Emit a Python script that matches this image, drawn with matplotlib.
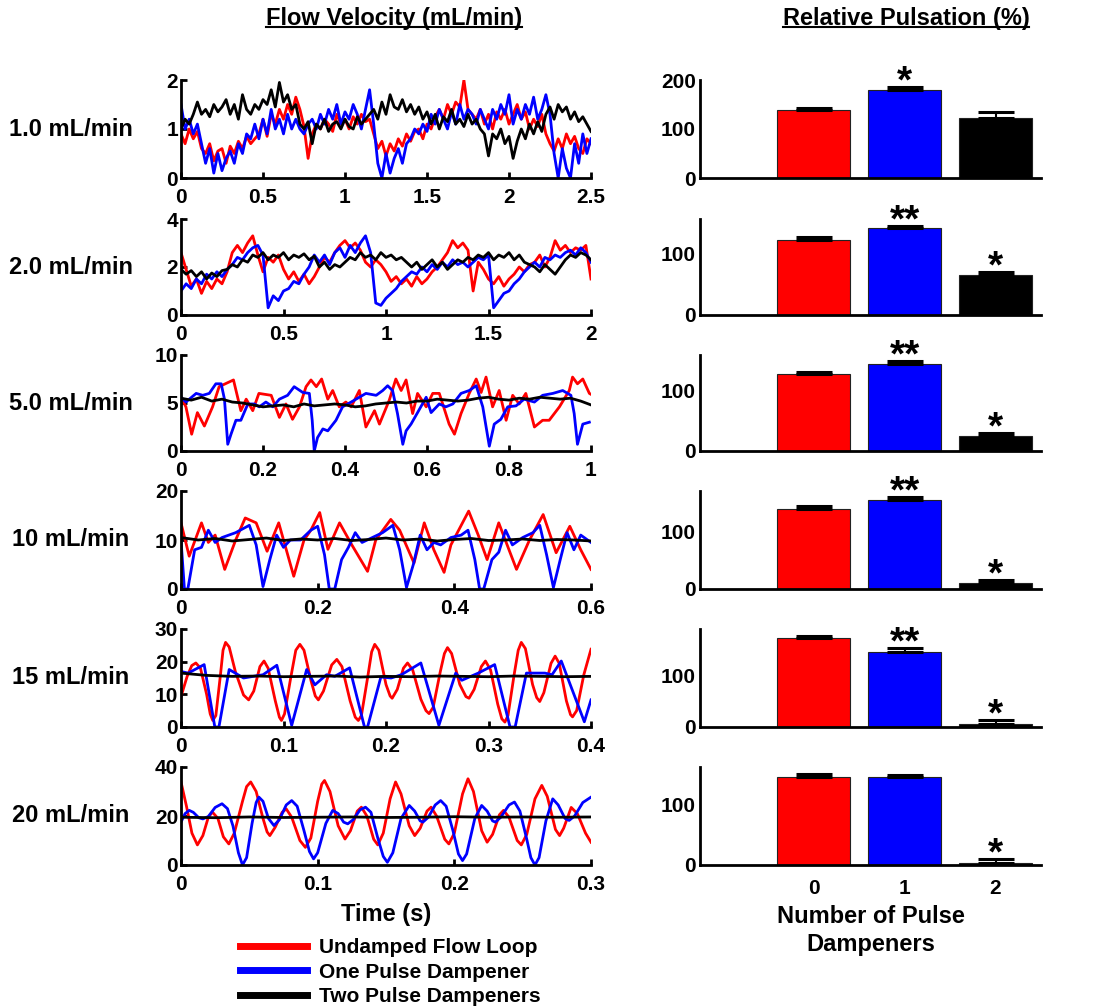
import numpy as np
import matplotlib
matplotlib.use('Agg')
import matplotlib.pyplot as plt
from matplotlib.lines import Line2D
from matplotlib.ticker import FormatStrFormatter

plt.rcParams['font.family'] = ['Liberation Sans', 'DejaVu Sans']
plt.rcParams['font.weight'] = 'bold'

# ---------------- data ----------------
row_labels = ['1.0 mL/min', '2.0 mL/min', '5.0 mL/min', '10 mL/min', '15 mL/min', '20 mL/min']
legend_labels = ['Undamped Flow Loop', 'One Pulse Dampener', 'Two Pulse Dampeners']

# 1.0 mL/min, sampled every 0.025 s
t1 = np.arange(101) * 0.025
red1 = [0.9, 0.7, 1.0, 0.8, 0.95,
        0.6, 0.5, 0.7, 0.35, 0.55, 0.6, 0.3, 0.65, 0.5, 0.75, 0.6, 0.85, 0.7, 0.8,
        0.9, 1.2, 0.85, 1.3, 1.1, 1.4, 1.2, 1.5, 1.3, 1.65,
        1.4, 1.05, 0.4, 0.9,
        1.1, 1.0, 1.2, 1.1, 0.95, 1.3, 1.1, 1.2, 1.0, 1.25, 1.1, 1.3, 1.15, 1.2,
        0.9, 0.6, 0.75, 0.45, 0.7, 0.55, 0.8, 0.65, 0.9, 0.75, 0.95, 1.0,
        0.8, 1.1, 1.0, 1.25, 1.4, 1.2, 1.5, 1.3, 1.55, 1.45, 2.0, 1.4, 1.3, 1.2, 1.4, 1.1,
        1.3, 1.0, 1.35, 1.2, 1.4, 1.1, 1.3, 1.5, 1.2, 1.35, 1.0, 1.2, 1.05, 1.3,
        0.9, 0.7, 0.55, 0.8, 0.6, 0.9, 0.7, 0.85, 0.6, 0.5, 0.8, 0.7]
blue1 = [1.5, 1.0, 1.2, 0.9, 1.1,
         0.7, 0.3, 0.6, 0.1, 0.5, 0.15, 0.4, 0.55, 0.3, 0.7, 0.5, 0.9, 0.8, 1.1,
         0.8, 1.2, 0.9, 1.4, 1.0, 1.2, 0.9, 1.3, 1.0, 1.2,
         1.0, 0.9, 1.1, 1.2,
         1.0, 1.3, 1.1, 1.4, 1.2, 1.5, 1.1, 1.35, 1.2, 1.5, 1.3, 1.0, 1.4, 1.8,
         1.1, 0.3, 0.0, 0.5, 0.1, 0.4, 0.6, 0.3, 0.7, 0.8, 1.0, 0.9,
         1.1, 0.95, 1.3, 1.1, 1.4, 1.2, 1.0, 1.35, 1.1, 1.5, 1.2, 1.4, 1.3, 1.1, 1.4, 1.2,
         1.0, 1.4, 1.2, 1.5, 1.3, 1.7, 1.1, 1.4, 1.2, 1.5, 1.3, 1.65, 1.2, 1.4,
         1.7, 1.3, 0.5, 0.0, 0.6, 0.2, 0.0, 0.7, 0.3, 0.9, 0.5, 0.8]
black1 = [1.0, 1.2, 1.1, 1.3, 1.55,
          1.3, 1.4, 1.25, 1.5, 1.35, 1.45, 1.6, 1.3, 1.5, 1.2, 1.7, 1.4, 1.3, 1.5,
          1.4, 1.6, 1.5, 1.8, 1.45, 1.95, 1.55, 1.7, 1.4, 1.5,
          1.1, 1.0, 1.15, 0.7,
          1.1, 1.0, 1.2, 0.95, 1.1, 1.15, 1.0, 1.2, 1.05, 1.0, 1.25, 1.1, 1.2, 1.3,
          1.4, 1.2, 1.55, 1.3, 1.7, 1.45, 1.4, 1.6, 1.35, 1.5, 1.3, 1.45,
          1.2, 1.35, 1.1, 1.3, 1.0, 1.25, 1.15, 1.4, 1.1, 1.2, 1.05, 1.3, 1.1, 1.2, 1.0, 0.9,
          0.45, 0.9, 0.8, 1.0, 0.7, 0.85, 0.4, 0.75, 1.0, 0.8, 1.1, 0.9, 1.15, 0.95,
          1.3, 1.45, 1.2, 1.5, 1.35, 1.45, 1.2, 1.35, 1.15, 1.25, 1.1, 0.95]

# 2.0 mL/min, sampled every 0.025 s
t2 = np.arange(81) * 0.025
red2 = [2.6, 1.9, 1.2, 1.5, 0.9, 1.4, 1.1, 1.5, 1.3,
        1.8, 2.6, 2.9, 2.6, 3.0, 3.3,
        2.5, 1.8, 2.4, 2.2, 2.5, 1.9, 1.5, 1.8, 1.4, 1.7, 1.3, 1.6,
        2.0, 2.4, 2.2, 2.6, 2.9, 3.1,
        2.8, 3.0, 2.7, 2.2, 2.0, 2.3, 2.1, 1.8, 1.4, 1.6, 1.3, 1.5,
        1.2, 1.6, 1.3, 1.5, 1.8, 2.0, 2.3, 2.6, 3.1, 2.8, 3.0, 2.7,
        1.0, 2.2, 1.9, 1.5, 1.3, 1.6, 1.2, 1.5, 1.7, 2.0, 1.8, 2.1,
        2.2, 2.5, 2.0, 2.4, 3.1, 2.7,
        2.9, 2.6, 2.8, 2.7, 2.9, 1.5]
blue2 = [1.0, 1.3, 1.1, 1.5, 1.3, 1.7, 1.5, 1.8, 1.6,
         1.9, 2.1, 2.4, 2.3, 2.6, 2.8,
         2.9, 2.5, 0.3, 0.8, 0.6, 1.0, 1.1, 1.4, 1.3, 1.7, 2.0, 2.5,
         2.2, 2.5, 2.1, 2.6, 2.8, 2.4,
         2.9, 2.6, 3.0, 3.3, 2.6, 0.5, 0.4, 0.7, 0.9, 1.1, 1.4, 1.6,
         1.8, 1.7, 2.0, 1.8, 2.1, 1.9, 2.2, 2.0, 2.3, 2.1, 2.2, 2.0,
         2.2, 2.4, 2.3, 2.5, 0.3, 0.6, 0.9, 1.0, 1.3, 1.5, 1.8, 2.0,
         2.2, 2.0, 2.4, 2.3, 2.5, 2.4,
         2.6, 2.7, 2.5, 2.8, 2.6, 2.2]
black2 = [1.9, 1.7, 1.85, 1.6, 1.8, 1.5, 1.75, 1.6, 1.85,
          1.9, 2.1, 2.0, 2.3, 2.2, 2.5,
          2.4, 2.6, 2.3, 2.5, 2.4, 2.6, 2.3, 2.5, 2.4, 2.55, 2.3, 2.45,
          2.0, 2.2, 1.9, 2.1, 2.0, 2.2,
          2.4, 2.3, 2.6, 2.4, 2.5, 2.3, 2.6, 2.4, 2.5, 2.3, 2.4, 2.2,
          2.0, 2.2, 1.9, 2.1, 2.3, 2.0, 2.2, 1.9, 2.1, 2.3, 2.2, 2.4,
          2.3, 2.5, 2.4, 2.6, 2.3, 2.5, 2.4, 2.6, 2.3, 2.5, 2.2, 2.1,
          2.0, 1.8, 2.1, 1.9, 1.7, 2.0,
          2.3, 2.5, 2.4, 2.6, 2.5, 2.3]

# 5.0 mL/min
t3_red = [0, 0.012, 0.026, 0.04, 0.057, 0.077, 0.093, 0.128, 0.146, 0.159,
          0.175, 0.19, 0.22, 0.24, 0.256, 0.272, 0.289, 0.305, 0.317, 0.33,
          0.343, 0.358, 0.37, 0.386, 0.402, 0.415, 0.435, 0.451, 0.472, 0.484,
          0.508, 0.524, 0.537, 0.549, 0.565, 0.577, 0.598, 0.614, 0.63, 0.654,
          0.667, 0.683, 0.703, 0.72, 0.732, 0.744, 0.76, 0.776, 0.793, 0.809,
          0.825, 0.841, 0.862, 0.882, 0.898, 0.923, 0.947, 0.955, 0.967, 0.98,
          0.996, 1.0]
red3 = [5.6, 4.6, 1.75, 4.0, 2.6, 4.6, 6.7, 7.4, 4.2, 5.4,
        4.2, 6.0, 5.8, 3.5, 4.9, 3.3, 4.6, 6.7, 7.4, 6.7,
        7.5, 5.4, 6.3, 4.6, 5.1, 4.6, 6.3, 2.5, 4.2, 2.8,
        5.3, 7.5, 6.3, 7.4, 3.9, 6.0, 4.6, 6.0, 6.0, 2.8,
        1.75, 3.9, 6.0, 7.5, 6.1, 7.7, 4.6, 6.3, 3.2, 5.8,
        4.9, 6.0, 2.5, 3.2, 3.2, 4.6, 6.3, 7.7, 7.0, 7.5,
        6.0, 5.9]
t3_blue = [0, 0.012, 0.037, 0.053, 0.069, 0.085, 0.098, 0.106, 0.114, 0.122,
           0.134, 0.146, 0.163, 0.179, 0.191, 0.207, 0.224, 0.24, 0.26, 0.276,
           0.297, 0.313, 0.32, 0.325, 0.333, 0.346, 0.358, 0.378, 0.394, 0.415,
           0.435, 0.451, 0.476, 0.492, 0.504, 0.516, 0.528, 0.541, 0.549, 0.561,
           0.577, 0.598, 0.61, 0.63, 0.646, 0.663, 0.683, 0.703, 0.72, 0.736,
           0.752, 0.764, 0.78, 0.797, 0.817, 0.837, 0.862, 0.882, 0.907, 0.931,
           0.951, 0.959, 0.967, 0.98, 0.996]
blue3 = [5.6, 5.1, 6.0, 5.8, 6.0, 7.0, 7.0, 5.4, 0.7, 1.75,
         3.2, 3.2, 4.9, 4.9, 4.6, 5.1, 4.6, 5.4, 5.8, 6.7,
         6.1, 6.0, 3.2, 0.0, 1.4, 2.3, 2.1, 3.2, 4.6, 5.1,
         5.6, 6.0, 5.8, 6.3, 6.8, 6.3, 3.9, 0.7, 2.1, 2.8,
         4.0, 5.6, 4.0, 4.9, 4.6, 4.9, 6.0, 6.3, 6.8, 4.6,
         0.5, 2.8, 3.3, 4.6, 4.7, 5.4, 5.1, 5.8, 6.0, 6.3,
         5.8, 3.9, 0.7, 2.8, 3.0]
t3_black = np.arange(41) * 0.025
black3 = [5.5, 5.3, 5.6, 5.2, 5.4, 5.1, 5.0, 4.8, 4.6, 4.7,
          4.8, 4.6, 4.9, 4.7, 4.8, 4.9, 4.8, 4.6, 4.7, 4.9,
          5.0, 5.1, 5.0, 5.2, 5.2, 5.4, 5.3, 5.2, 5.3, 5.5,
          5.6, 5.4, 5.3, 5.5, 5.4, 5.6, 5.5, 5.4, 5.5, 5.2, 4.8]

# 10 mL/min
t4_red = [0, 0.012, 0.03, 0.04, 0.05, 0.064, 0.08, 0.094, 0.11, 0.126,
          0.143, 0.165, 0.18, 0.19, 0.203, 0.215, 0.232, 0.25, 0.273, 0.285,
          0.307, 0.32, 0.341, 0.356, 0.37, 0.385, 0.395, 0.421, 0.435, 0.448,
          0.465, 0.48, 0.491, 0.51, 0.53, 0.549, 0.569, 0.585, 0.6]
red4 = [13.5, 6.7, 13.5, 9.5, 11, 4.0, 10, 14.5, 13.5, 7.7,
        13.5, 2.6, 10, 12, 15.6, 8.1, 13.5, 9, 3.6, 10,
        14.2, 12, 5.3, 13.5, 8, 3.4, 9, 15.9, 11, 6.0,
        13.5, 8, 4.0, 10, 15.2, 7.4, 12.8, 8, 4.0]
t4_blue = [0, 0.005, 0.01, 0.02, 0.03, 0.04, 0.05, 0.06, 0.08, 0.1,
           0.11, 0.12, 0.13, 0.14, 0.15, 0.16, 0.175, 0.19, 0.2, 0.21,
           0.217, 0.225, 0.235, 0.245, 0.255, 0.265, 0.28, 0.295, 0.31, 0.32,
           0.33, 0.34, 0.35, 0.36, 0.37, 0.38, 0.395, 0.41, 0.42, 0.43,
           0.437, 0.443, 0.455, 0.465, 0.475, 0.485, 0.5, 0.515, 0.525, 0.535,
           0.545, 0.555, 0.565, 0.575, 0.585, 0.595, 0.6]
blue4 = [10, 0, 0, 8, 8.5, 12, 9.5, 10.5, 11.5, 13,
         9, 0.5, 6, 11, 8.5, 10, 10, 12, 12.8, 7,
         0, 0, 6, 8.5, 11.5, 9.5, 10.5, 11.5, 13, 8,
         0.3, 5, 11, 8, 9.5, 9, 10.5, 11, 12, 6,
         0, 0, 6, 7.5, 12, 9, 10.5, 11.5, 13, 7,
         0.3, 6, 11.5, 8, 11, 10, 9.5]
t4_black = np.arange(25) * 0.025
black4 = [10.5, 10.0, 10.3, 9.8, 10.1, 10.4, 9.9, 10.2, 10.0, 10.3,
          9.9, 10.1, 10.4, 10.0, 10.2, 9.8, 10.1, 10.3, 9.9, 10.0,
          10.2, 9.9, 10.1, 10.0, 9.8]

# 15 mL/min
t5_red = [0, 0.006, 0.0105, 0.0145, 0.019, 0.025, 0.0285, 0.031, 0.034, 0.0385,
          0.041, 0.0435, 0.047, 0.053, 0.061, 0.066, 0.071, 0.077, 0.081, 0.085,
          0.092, 0.096, 0.098, 0.101, 0.107, 0.112, 0.116, 0.12, 0.127, 0.131,
          0.134, 0.139, 0.147, 0.152, 0.157, 0.165, 0.17, 0.173, 0.176, 0.182,
          0.186, 0.189, 0.193, 0.2, 0.204, 0.206, 0.211, 0.217, 0.221, 0.226,
          0.234, 0.239, 0.242, 0.246, 0.253, 0.257, 0.26, 0.264, 0.272, 0.278,
          0.281, 0.286, 0.293, 0.297, 0.302, 0.309, 0.313, 0.316, 0.319, 0.325,
          0.329, 0.332, 0.336, 0.343, 0.347, 0.35, 0.354, 0.361, 0.365, 0.369,
          0.376, 0.38, 0.382, 0.386, 0.393, 0.4]
red5 = [9.3, 15.5, 18.8, 19.6, 18, 10, 4, 2, 3.5, 16,
        23.5, 25.9, 24.5, 17, 9.8, 8.3, 11, 18.5, 20.2, 18,
        8, 3, 2, 4, 15, 23.5, 25.3, 23.5, 14, 9.5,
        8.3, 11, 19, 20.7, 18.5, 8, 3, 2, 3.5, 15,
        23, 25.3, 23.5, 13, 9.5, 8.8, 11.5, 18, 19.6, 17.5,
        8.5, 5, 4.1, 6, 17, 22.5, 24.3, 22.5, 13, 9.3,
        8.8, 11.5, 18.5, 20.2, 17.5, 7, 2.5, 1.5, 3.5, 16,
        23.5, 25.9, 24, 13, 9, 7.8, 10.5, 19.5, 21.7, 19.5,
        8, 3.8, 3.1, 5, 16, 23.8]
t5_blue = [0, 0.007, 0.0226, 0.033, 0.037, 0.047, 0.061, 0.08, 0.0935, 0.108,
           0.1226, 0.1306, 0.142, 0.15, 0.1645, 0.179, 0.182, 0.195, 0.205, 0.215,
           0.234, 0.2516, 0.268, 0.274, 0.29, 0.306, 0.321, 0.326, 0.337, 0.355,
           0.362, 0.371, 0.3935, 0.4]
blue5 = [17, 16.5, 19.1, 0, 0, 17.6, 15, 16, 18.9, 0.5,
         17.6, 12.9, 16, 15.5, 18.1, 0, 0, 15.3, 15, 16,
         19.6, 0.5, 16.5, 14.3, 16.5, 19.1, 0, 0, 16.5, 16.5,
         16, 20.2, 1.6, 8.3]
t5_black = np.arange(17) * 0.025
black5 = [16.5, 15.8, 15.5, 15.6, 15.4, 15.5, 15.6, 15.3, 15.5, 15.4,
          15.6, 15.5, 15.4, 15.6, 15.5, 15.4, 15.5]

# 20 mL/min
t6_red = [0, 0.004, 0.008, 0.012, 0.016, 0.02, 0.023, 0.027, 0.031, 0.035,
          0.039, 0.045, 0.048, 0.051, 0.055, 0.06, 0.063, 0.065, 0.069, 0.074,
          0.077, 0.081, 0.087, 0.091, 0.095, 0.1, 0.103, 0.105, 0.109, 0.115,
          0.12, 0.124, 0.129, 0.132, 0.136, 0.141, 0.144, 0.148, 0.153, 0.157,
          0.161, 0.167, 0.171, 0.175, 0.18, 0.183, 0.187, 0.193, 0.196, 0.2,
          0.206, 0.21, 0.214, 0.22, 0.224, 0.228, 0.233, 0.236, 0.24, 0.246,
          0.249, 0.253, 0.259, 0.264, 0.268, 0.274, 0.277, 0.28, 0.2855, 0.29,
          0.296, 0.3]
red6 = [33.9, 24, 13, 8.2, 12, 19.5, 21.6, 19, 11.5, 8.6,
        13, 26, 32, 33.9, 30, 19, 13.5, 12, 15.5, 21.5,
        22.9, 19.5, 10, 7.2, 11, 26, 33, 34.5, 30, 16,
        10.6, 14, 22, 23.6, 20, 10.5, 8.2, 13, 27, 33.9,
        29, 16, 12, 15, 22, 23.6, 20, 10.5, 8.6, 13,
        29, 35.2, 30, 14, 9.3, 12.5, 20.5, 22.3, 19.5, 10,
        8.2, 12.5, 27, 32.5, 28, 14.5, 12, 15, 23.5, 21,
        13, 9.3]
t6_blue = [0, 0.003, 0.006, 0.009, 0.013, 0.016, 0.02, 0.025, 0.03, 0.034,
           0.038, 0.042, 0.045, 0.048, 0.052, 0.055, 0.057, 0.06, 0.064, 0.068,
           0.072, 0.077, 0.081, 0.085, 0.09, 0.094, 0.097, 0.1, 0.106, 0.111,
           0.115, 0.119, 0.122, 0.126, 0.131, 0.135, 0.139, 0.144, 0.148, 0.151,
           0.155, 0.161, 0.167, 0.171, 0.175, 0.177, 0.181, 0.186, 0.19, 0.194,
           0.199, 0.203, 0.206, 0.209, 0.215, 0.22, 0.224, 0.228, 0.23, 0.234,
           0.24, 0.244, 0.248, 0.253, 0.256, 0.259, 0.262, 0.267, 0.272, 0.276,
           0.281, 0.284, 0.288, 0.294, 0.3]
blue6 = [17.5, 21, 22.3, 21.5, 19.3, 18.8, 19.8, 23.5, 25, 23,
         16, 5, 0, 3, 17, 25.5, 27.7, 26, 19, 16.1,
         18.5, 24.5, 26.3, 24, 14, 5.5, 2.5, 5, 17, 22.3,
         21, 17.5, 16.8, 18.5, 22.5, 23.6, 21.5, 11, 3.5, 1.1,
         5, 19, 24.3, 22, 18, 17.5, 19.5, 24.5, 26.3, 24,
         14, 4.5, 1.8, 4.5, 19, 24.3, 22, 18, 17.5, 19.5,
         24.5, 25.7, 22, 10.5, 3, 0, 3, 18, 27, 24.5,
         19, 18.2, 20, 25.5, 27.7]
t6_black = np.arange(13) * 0.025
black6 = [19.5, 19.3, 19.6, 19.4, 19.5, 19.6, 19.4, 19.5, 19.7, 19.5,
          19.6, 19.5, 19.6]

# relative pulsation (%) for 0, 1, 2 dampeners
n_dampeners = [0, 1, 2]
puls_red = [138, 121, 128, 139, 172, 146]
puls_blue = [179, 140, 145, 155, 144, 145]
puls_black = [122, 65, 25, 10, 6, 4]
err_red = [5, 5, 4, 5, 4, 4]
err_blue = [7, 4, 5, 4, 9, 4]
err_black = [13, 4, 5, 6, 7, 6]
stars_blue = ['*', '**', '**', '**', '**', '']
stars_black = ['', '*', '*', '*', '*', '*']

# ---------------- layout ----------------
W, H = 1110, 1006
fig = plt.figure(figsize=(W / 100, H / 100), dpi=100)

lines_data = [
    ((t1, red1), (t1, blue1), (t1, black1)),
    ((t2, red2), (t2, blue2), (t2, black2)),
    ((t3_red, red3), (t3_blue, blue3), (t3_black, black3)),
    ((t4_red, red4), (t4_blue, blue4), (t4_black, black4)),
    ((t5_red, red5), (t5_blue, blue5), (t5_black, black5)),
    ((t6_red, red6), (t6_blue, blue6), (t6_black, black6)),
]
xmax = [2.5, 2, 1, 0.6, 0.4, 0.3]
xstep = [0.5, 0.5, 0.2, 0.2, 0.1, 0.1]
ymax = [2, 4, 10, 20, 30, 40]
ystep = [1, 2, 5, 10, 10, 20]
bar_ymax = [200, 155, 160, 170, 189, 162]
bar_yticks = [[0, 100, 200], [0, 100], [0, 100], [0, 100], [0, 100], [0, 100]]

bottoms = [178, 315, 451, 589, 727, 865]
tops = [80, 219, 355, 491, 629, 767]
colors = ['#ff0000', '#0000ff', '#000000']
FS = 15


def style(ax):
    for s in ['top', 'right']:
        ax.spines[s].set_visible(False)
    for s in ['left', 'bottom']:
        ax.spines[s].set_linewidth(2)
    ax.tick_params(direction='in', length=4, width=2, labelsize=FS, pad=3)


for i in range(6):
    yb = 1 - bottoms[i] / H
    h = (bottoms[i] - tops[i]) / H
    # time series
    ax = fig.add_axes([181 / W, yb, 410 / W, h])
    for (tt, vv), c in zip(lines_data[i], colors):
        ax.plot(tt, vv, color=c, lw=2, solid_joinstyle='round')
    ax.set_xlim(0, xmax[i])
    ax.set_ylim(0, ymax[i])
    ax.set_xticks(np.arange(0, xmax[i] + 1e-9, xstep[i]))
    ax.set_yticks(np.arange(0, ymax[i] + 1e-9, ystep[i]))
    ax.xaxis.set_major_formatter(FormatStrFormatter('%g'))
    ax.yaxis.set_major_formatter(FormatStrFormatter('%g'))
    style(ax)
    ax.tick_params(axis='y', pad=2)
    ax.tick_params(axis='x', pad=7)
    fig.text(71 / W, yb + h / 2, row_labels[i], ha='center', va='center',
             fontsize=17, fontweight='bold')
    if i == 5:
        ax.set_xlabel('Time (s)', fontsize=17, fontweight='bold', labelpad=7)

    # bars
    bx = fig.add_axes([700 / W, yb, 341 / W, h])
    vals = [puls_red[i], puls_blue[i], puls_black[i]]
    errs = [err_red[i], err_blue[i], err_black[i]]
    bx.bar(n_dampeners, vals, width=0.8, color=colors, edgecolor='#222222', linewidth=0.8, zorder=2)
    bx.errorbar(n_dampeners, vals, yerr=[[0, 0, 0], errs], fmt='none', ecolor='black',
                elinewidth=1.5, capsize=13, capthick=2.2, zorder=3)
    for x, v, e, s in zip([1, 2], vals[1:], errs[1:], [stars_blue[i], stars_black[i]]):
        if s:
            bx.annotate(s, (x, v + e), xytext=(0, -4), textcoords='offset points',
                        ha='center', va='baseline', fontsize=28, fontweight='bold')
    bx.set_xlim(-1.25, 2.5)
    bx.set_ylim(0, bar_ymax[i])
    bx.set_yticks(bar_yticks[i])
    style(bx)
    bx.tick_params(axis='y', length=0)
    if i == 5:
        bx.set_xticks(n_dampeners)
        bx.tick_params(axis='x', length=0, pad=10)
        bx.set_xlabel('Number of Pulse\nDampeners', fontsize=17, fontweight='bold',
                      labelpad=5, linespacing=1.3)
    else:
        bx.set_xticks([])

# column titles, underlined
titles = [fig.text(394 / W, 1 - 18 / H, 'Flow Velocity (mL/min)', ha='center', va='center',
                   fontsize=17, fontweight='bold'),
          fig.text(906 / W, 1 - 18 / H, 'Relative Pulsation (%)', ha='center', va='center',
                   fontsize=17, fontweight='bold')]
fig.canvas.draw()
inv = fig.transFigure.inverted()
for tx in titles:
    bb = tx.get_window_extent()
    (x0, y0), (x1, y1) = inv.transform([(bb.x0, bb.y0), (bb.x1, bb.y1)])
    fig.add_artist(Line2D([x0, x1], [y0 + 0.002, y0 + 0.002], color='black', lw=1.5,
                          transform=fig.transFigure))

handles = [Line2D([], [], color=c, lw=5) for c in colors]
fig.legend(handles, legend_labels, loc='upper left', bbox_to_anchor=(240 / W, 1 - 938 / H),
           frameon=False, fontsize=FS, handlelength=3.2, handletextpad=0.6,
           labelspacing=0.27, borderpad=0, borderaxespad=0)

fig.savefig('out.png', dpi=100)
